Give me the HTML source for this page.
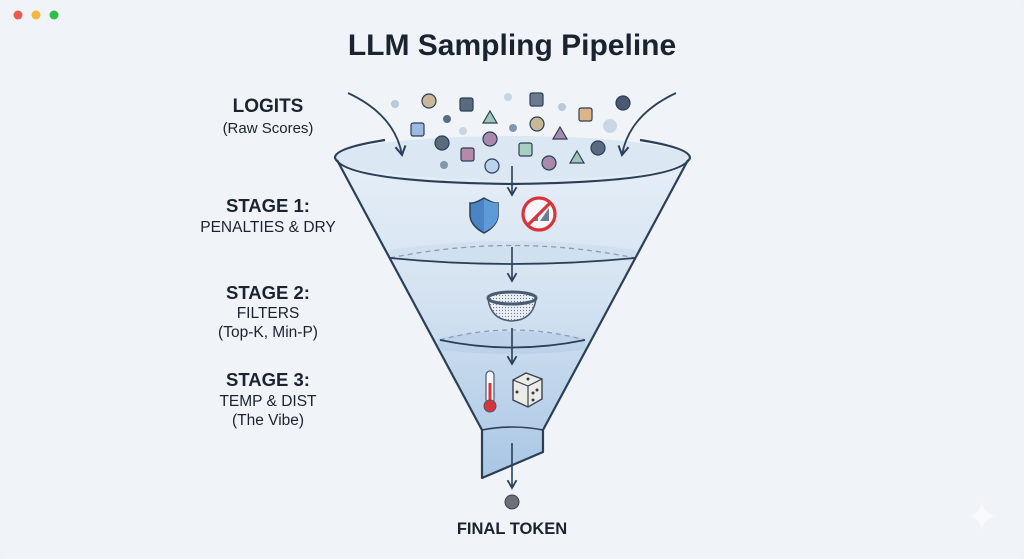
<!DOCTYPE html>
<html><head><meta charset="utf-8"><style>
html,body{margin:0;padding:0;background:#eef3f8;}
svg{display:block;font-family:"Liberation Sans",sans-serif;}
</style></head><body>
<svg width="1024" height="559" viewBox="0 0 1024 559" xmlns="http://www.w3.org/2000/svg">
<defs>
<linearGradient id="fg" x1="0" y1="0" x2="0" y2="1">
<stop offset="0" stop-color="#e6eef7"/><stop offset="0.45" stop-color="#d3e2f1"/><stop offset="1" stop-color="#a9c6e4"/>
</linearGradient>
<pattern id="mesh" width="3" height="3" patternUnits="userSpaceOnUse"><rect width="3" height="3" fill="#e8eef4"/><circle cx="1.5" cy="1.5" r="0.6" fill="#6b7c90"/></pattern>
<marker id="ah" viewBox="0 0 10 10" refX="8" refY="5" markerWidth="7" markerHeight="7" orient="auto-start-reverse">
<path d="M1,1 L8,5 L1,9" fill="none" stroke="#2b3f57" stroke-width="1.6"/>
</marker>
</defs>
<rect x="0" y="0" width="1024" height="559" rx="10" fill="#f0f4f9"/>
<circle cx="18" cy="15" r="4.5" fill="#ec5a52"/><circle cx="36" cy="15" r="4.5" fill="#f5b73b"/><circle cx="54" cy="15" r="4.5" fill="#2fbf46"/>
<text x="512" y="55" text-anchor="middle" font-size="30" font-weight="bold" fill="#1b2230">LLM Sampling Pipeline</text>

<path d="M337,160 L482,430 L482,478 L543,452 L543,430 L688,160 Z" fill="url(#fg)"/>
<ellipse cx="512" cy="158" rx="177" ry="22" fill="#dbe7f2"/>
<path d="M388,250 Q512,232 636,250 L636,258 Q512,270 388,258Z" fill="#cbdcee" opacity="0.6"/>
<path d="M438,338 Q512,325 585,338 L585,350 Q512,358 438,350Z" fill="#b5cde6" opacity="0.6"/>
<path d="M390,258 Q512,233 635,258" fill="none" stroke="#8a9cb2" stroke-width="1.3" stroke-dasharray="5,4"/>
<path d="M390,258 Q512,270 635,258" fill="none" stroke="#2b3f57" stroke-width="1.8"/>
<path d="M440,340 Q512,320 585,340" fill="none" stroke="#8a9cb2" stroke-width="1.3" stroke-dasharray="5,4"/>
<path d="M440,340 Q512,355 585,340" fill="none" stroke="#2b3f57" stroke-width="1.8"/>
<path d="M337,160 L482,430 L482,478 L543,452 L543,430 L688,160" fill="none" stroke="#2b3f57" stroke-width="2.2" stroke-linejoin="round"/>
<path d="M482,430 Q512,424 543,430" fill="none" stroke="#2b3f57" stroke-width="1.6"/>
<path d="M385,140 Q334,148 335,158 Q345,182 512,184 Q680,182 690,158 Q690,148 640,140" fill="none" stroke="#2b3f57" stroke-width="2.2"/>

<g stroke="#2b3f57" stroke-width="1.2">
<circle cx="395" cy="104" r="4" fill="#b9c9da" stroke="none"/>
<circle cx="429" cy="101" r="7" fill="#c9b898"/>
<rect x="460" y="98" width="13" height="13" rx="2" fill="#5a6b80"/>
<path d="M490,111 L497,123 L483,123Z" fill="#9fc6b8"/>
<circle cx="447" cy="119" r="4" fill="#5a6b80" stroke="none"/>
<rect x="411" y="123" width="13" height="13" rx="2" fill="#9dbbe0"/>
<circle cx="463" cy="131" r="4" fill="#c7d4e2" stroke="none"/>
<circle cx="442" cy="143" r="7" fill="#5a6b80"/>
<circle cx="490" cy="139" r="7" fill="#a98aad"/>
<rect x="461" y="148" width="13" height="13" rx="2" fill="#b48aa8"/>
<circle cx="444" cy="165" r="4" fill="#8496ab" stroke="none"/>
<circle cx="492" cy="166" r="7" fill="#bcd3ec"/>
<circle cx="508" cy="97" r="4" fill="#c7d4e2" stroke="none"/>
<rect x="530" y="93" width="13" height="13" rx="2" fill="#6b7c90"/>
<circle cx="562" cy="107" r="4" fill="#b9c9da" stroke="none"/>
<rect x="579" y="108" width="13" height="13" rx="2" fill="#dcb48a"/>
<circle cx="623" cy="103" r="7" fill="#4a5a70"/>
<circle cx="610" cy="126" r="7" fill="#c9d6e6" stroke="none"/>
<circle cx="513" cy="128" r="4" fill="#8496ab" stroke="none"/>
<circle cx="537" cy="124" r="7" fill="#c9b898"/>
<path d="M560,127 L567,139 L553,139Z" fill="#a98aad"/>
<rect x="519" y="143" width="13" height="13" rx="2" fill="#a9cfc2"/>
<circle cx="598" cy="148" r="7" fill="#5a6b80"/>
<path d="M577,151 L584,163 L570,163Z" fill="#9fc6b8"/>
<circle cx="549" cy="163" r="7" fill="#a98aad"/>
</g>

<path d="M348,93 Q395,115 402,155" fill="none" stroke="#2b3f57" stroke-width="1.8" marker-end="url(#ah)"/>
<path d="M676,93 Q629,115 622,155" fill="none" stroke="#2b3f57" stroke-width="1.8" marker-end="url(#ah)"/>

<g stroke="#2b3f57" stroke-width="1.6" fill="none" marker-end="url(#ah)">
<line x1="512" y1="166" x2="512" y2="195"/>
<line x1="512" y1="247" x2="512" y2="281"/>
<line x1="512" y1="328" x2="512" y2="364"/>
<line x1="512" y1="443" x2="512" y2="488"/>
</g>
<circle cx="512" cy="502" r="7" fill="#6b6f76" stroke="#3a4250" stroke-width="1"/>

<path d="M484,198 Q474,204 470,203 L470,216 Q471,226 484,233 Q497,226 498,216 L498,203 Q494,204 484,198Z" fill="#4c83c4" stroke="#2b3f57" stroke-width="1.5"/>
<path d="M484,199 L484,232 Q497,226 498,216 L498,203 Q494,204 484,199Z" fill="#5f9ad8"/>
<circle cx="539" cy="214" r="16" fill="#f4f6f9" stroke="#d8343a" stroke-width="3.2"/>
<path d="M530,221 L538,213 L538,221Z M540,221 L549,208 L549,221Z" fill="#6b7c90"/>
<line x1="528" y1="225" x2="550" y2="203" stroke="#d8343a" stroke-width="3.2"/>

<path d="M488,299 Q491,320 512,321 Q533,320 536,299" fill="url(#mesh)" stroke="#4a5a70" stroke-width="1.5"/>
<ellipse cx="512" cy="298" rx="24" ry="6" fill="url(#mesh)" stroke="#4a5a70" stroke-width="3"/>

<rect x="486" y="371" width="8" height="32" rx="4" fill="#f4f6f9" stroke="#4a5a70" stroke-width="1.2"/>
<rect x="488.5" y="383" width="3" height="20" fill="#d8343a"/>
<circle cx="490" cy="406" r="6" fill="#d8343a" stroke="#4a5a70" stroke-width="1"/>
<path d="M513,380 L526,373 L542,379 L542,399 L528,407 L513,400Z" fill="#ecebe6" stroke="#3a4250" stroke-width="1.4"/>
<path d="M513,380 L528,386 L542,379 M528,386 L528,407" fill="none" stroke="#3a4250" stroke-width="1.2"/>
<circle cx="528" cy="379" r="1.5" fill="#2b3f57"/><circle cx="517" cy="392" r="1.5" fill="#2b3f57"/>
<circle cx="533" cy="393" r="1.5" fill="#2b3f57"/><circle cx="537" cy="390" r="1.5" fill="#2b3f57"/><circle cx="533" cy="400" r="1.5" fill="#2b3f57"/>

<g text-anchor="middle" fill="#1b2230">
<text x="268" y="112" font-size="19" font-weight="bold">LOGITS</text>
<text x="268" y="133" font-size="15">(Raw Scores)</text>
<text x="268" y="212" font-size="18.5" font-weight="bold">STAGE 1:</text>
<text x="268" y="232" font-size="15.5">PENALTIES &amp; DRY</text>
<text x="268" y="299" font-size="18.5" font-weight="bold">STAGE 2:</text>
<text x="268" y="318" font-size="15.5">FILTERS</text>
<text x="268" y="337" font-size="15.5">(Top-K, Min-P)</text>
<text x="268" y="386" font-size="18.5" font-weight="bold">STAGE 3:</text>
<text x="268" y="406" font-size="15.5">TEMP &amp; DIST</text>
<text x="268" y="425" font-size="15.5">(The Vibe)</text>
<text x="512" y="534" font-size="16.5" font-weight="bold">FINAL TOKEN</text>
</g>
<path d="M982,502 Q984,514 996,516 Q984,518 982,530 Q980,518 968,516 Q980,514 982,502Z" fill="#f8fafc"/>
</svg>
</body></html>
